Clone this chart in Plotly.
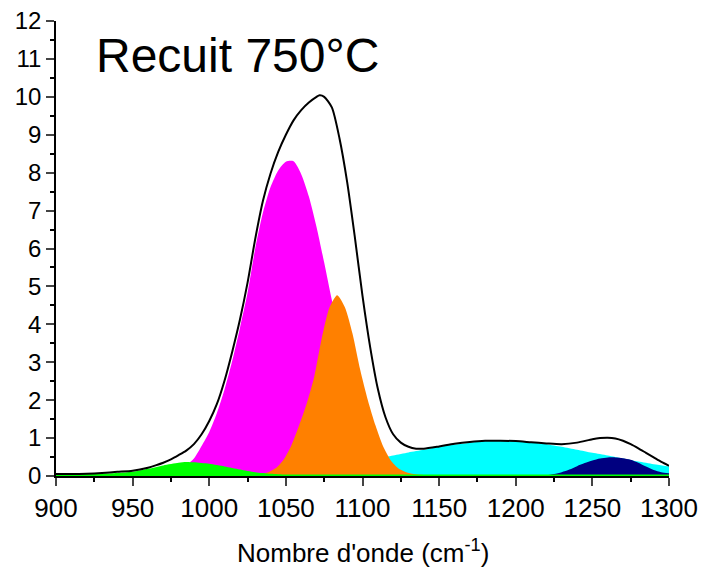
import plotly.graph_objects as go

# ---- data ----
green_x = [900, 910, 920, 930, 940, 950, 960, 970, 980, 985, 990, 1000, 1010, 1020, 1030, 1040, 1050, 1060, 1100, 1200, 1300]
green_y = [0.04, 0.04, 0.05, 0.06, 0.08, 0.11, 0.19, 0.28, 0.35, 0.37, 0.36, 0.32, 0.25, 0.17, 0.10, 0.06, 0.04, 0.04, 0.04, 0.04, 0.04]

magenta_x = [950, 960, 970, 975, 980, 985, 990, 995, 1000, 1005, 1010, 1015, 1020, 1025, 1030, 1035, 1040, 1045,
             1050, 1055, 1060, 1065, 1070, 1075, 1080, 1085, 1090, 1095, 1100, 1105, 1110, 1115, 1120,
             1125, 1130, 1140]
magenta_y = [0.01, 0.02, 0.05, 0.10, 0.17, 0.29, 0.46, 0.79, 1.16, 1.66, 2.29, 3.04, 3.90, 4.83, 6.0, 6.94, 7.62, 8.06,
             8.29, 8.30, 7.96, 7.37, 6.57, 5.63, 4.64, 3.69, 2.82, 2.07, 1.47, 1.00, 0.65, 0.41, 0.25,
             0.15, 0.08, 0.02]

orange_x = [1018.5, 1023.5, 1033.5, 1038.5, 1043.5, 1048.5, 1053.5, 1058.5, 1063.5, 1068.5, 1073.5, 1078.5, 1083.5,
            1088.5, 1093.5, 1098.5, 1103.5, 1108.5, 1113.5, 1118.5, 1123.5, 1128.5, 1133.5, 1143.5, 1150]
orange_y = [0.0, 0.01, 0.05, 0.10, 0.21, 0.43, 0.80, 1.32, 1.90, 2.62, 3.65, 4.45, 4.77,
            4.45, 3.75, 2.80, 2.00, 1.33, 0.78, 0.41, 0.20, 0.10, 0.05, 0.01, 0.0]

cyan_x = [980, 1000, 1020, 1040, 1060, 1080, 1090, 1100, 1110, 1120, 1130, 1140, 1150, 1160, 1170, 1180, 1190,
          1200, 1210, 1220, 1230, 1240, 1250, 1260, 1270, 1280, 1290, 1300]
cyan_y = [0.01, 0.02, 0.04, 0.08, 0.14, 0.24, 0.31, 0.38, 0.46, 0.54, 0.62, 0.69, 0.77, 0.83, 0.88, 0.92, 0.93,
          0.92, 0.89, 0.84, 0.77, 0.69, 0.61, 0.54, 0.46, 0.38, 0.31, 0.25]

navy_x = [1210, 1215, 1220, 1225, 1230, 1235, 1240, 1245, 1250, 1255, 1260, 1265, 1270, 1275, 1280, 1285, 1290, 1295, 1300]
navy_y = [0.0, 0.01, 0.02, 0.05, 0.10, 0.17, 0.26, 0.34, 0.41, 0.46, 0.49, 0.49, 0.47, 0.43, 0.35, 0.25, 0.16, 0.10, 0.07]

total_x = [900, 910, 920, 930, 940, 950, 960, 965, 970, 975, 980, 985, 990, 995,
           1000, 1005, 1010, 1015, 1020, 1025, 1030, 1035, 1040, 1045, 1050, 1055, 1060, 1065, 1070, 1072, 1075,
           1080, 1085, 1090, 1095, 1100, 1105, 1110, 1115, 1120, 1125, 1130, 1135, 1140, 1150, 1160, 1170, 1180,
           1190, 1200, 1210, 1220, 1230, 1240, 1250, 1255, 1260, 1265, 1270, 1275, 1280, 1285, 1290, 1295, 1300]
total_y = [0.05, 0.05, 0.06, 0.08, 0.11, 0.14, 0.22, 0.28, 0.35, 0.44, 0.55, 0.67, 0.84, 1.10,
           1.45, 1.90, 2.52, 3.28, 4.12, 5.10, 6.25, 7.25, 7.98, 8.55, 9.00, 9.38, 9.65, 9.85, 10.0, 10.04, 10.0,
           9.72, 8.90, 7.75, 6.30, 4.75, 3.40, 2.30, 1.55, 1.10, 0.88, 0.77, 0.72, 0.72, 0.78, 0.85, 0.90, 0.93,
           0.93, 0.92, 0.89, 0.86, 0.84, 0.88, 0.97, 1.00, 1.01, 0.99, 0.93, 0.84, 0.73, 0.61, 0.49, 0.37, 0.27]

x_ticks = [900, 950, 1000, 1050, 1100, 1150, 1200, 1250, 1300]
y_ticks = list(range(0, 13))

FONT = "Liberation Sans, Arial, Helvetica, sans-serif"

fig = go.Figure()


def filled(x, y, color):
    fig.add_trace(go.Scatter(x=x, y=y, mode="lines", fill="tozeroy", fillcolor=color,
                             line=dict(color=color, width=0, shape="spline", smoothing=0.7),
                             hoverinfo="skip", showlegend=False))


filled(magenta_x, magenta_y, "#FF00FF")
filled(cyan_x, cyan_y, "#00FFFF")
filled(orange_x, orange_y, "#FF8000")
filled(navy_x, navy_y, "#000080")
filled(green_x, green_y, "#00FF00")

fig.add_trace(go.Scatter(x=total_x, y=total_y, mode="lines",
                         line=dict(color="black", width=2, shape="spline", smoothing=0.7),
                         hoverinfo="skip", showlegend=False))

fig.add_annotation(x=925, y=11.09, xref="x", yref="y", text="Recuit 750°C", showarrow=False,
                   xanchor="left", yanchor="middle", font=dict(family=FONT, size=48, color="black"))

fig.add_annotation(x=0.5, y=0, xref="paper", yref="paper", text="Nombre d'onde (cm<sup>-1</sup>)",
                   showarrow=False, xanchor="center", yanchor="top", yshift=-57,
                   font=dict(family=FONT, size=26, color="black"))

fig.update_layout(
    width=702, height=568,
    margin=dict(l=56, r=33, t=21, b=92),
    paper_bgcolor="white", plot_bgcolor="white",
    font=dict(family=FONT, color="black"),
    xaxis=dict(range=[900, 1300], tickvals=x_ticks, ticks="outside", ticklen=8, tickwidth=1.5,
               showline=True, linecolor="black", linewidth=1.5, showgrid=False, zeroline=False,
               automargin=False, tickfont=dict(size=26, family=FONT),
               minor=dict(dtick=25, ticks="outside", ticklen=4, tickwidth=1.5, tickcolor="black", showgrid=False)),
    yaxis=dict(range=[0, 12], tickvals=y_ticks, ticks="outside", ticklen=8, tickwidth=1.5,
               showline=True, linecolor="black", linewidth=1.5, showgrid=False, zeroline=False,
               automargin=False, tickfont=dict(size=24, family=FONT),
               minor=dict(dtick=0.5, ticks="outside", ticklen=4, tickwidth=1.5, tickcolor="black", showgrid=False)),
)

fig.write_html("out.html")
